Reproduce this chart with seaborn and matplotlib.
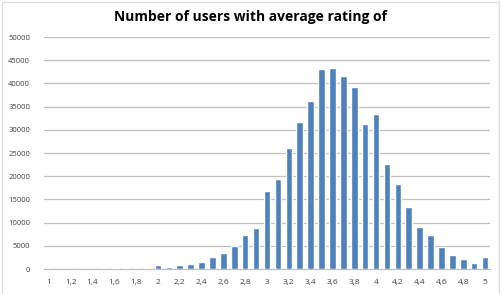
import matplotlib
matplotlib.use("Agg")
import matplotlib.pyplot as plt
import seaborn as sns
import pandas as pd
from matplotlib.patches import Rectangle

ratings = [1.0, 1.1, 1.2, 1.3, 1.4, 1.5, 1.6, 1.7, 1.8, 1.9,
           2.0, 2.1, 2.2, 2.3, 2.4, 2.5, 2.6, 2.7, 2.8, 2.9,
           3.0, 3.1, 3.2, 3.3, 3.4, 3.5, 3.6, 3.7, 3.8, 3.9,
           4.0, 4.1, 4.2, 4.3, 4.4, 4.5, 4.6, 4.7, 4.8, 4.9, 5.0]
users = [300, 60, 40, 40, 60, 110, 150, 150, 160, 200,
         860, 490, 860, 1140, 1570, 2580, 3430, 4860, 7300, 8870,
         16860, 19400, 26180, 31600, 36200, 43000, 43350, 41550, 39330, 31330,
         33400, 22660, 18300, 13300, 9000, 7300, 4640, 3000, 2150, 1200, 2580]
y_ticks = [0, 5000, 10000, 15000, 20000, 25000, 30000, 35000, 40000, 45000, 50000]
title = "Number of users with average rating of"

def fmt(v):
    s = ("%g" % v)
    return s.replace(".", ",")

labels = [fmt(r) for r in ratings]
df = pd.DataFrame({"rating": labels, "users": users})

sns.set_theme(style="white")
plt.rcParams['font.family'] = ['Open Sans', 'DejaVu Sans']

fig = plt.figure(figsize=(5.01, 2.94), dpi=100)
ax = fig.add_axes([44/501, 1-269/294, (490-44)/501, (269-37)/294])

sns.barplot(data=df, x="rating", y="users", color="#4F81BD", saturation=1,
            width=0.6, ax=ax, order=labels, zorder=3)

ax.set_ylim(0, 50000)
ax.set_xlim(-0.45, len(labels) - 0.55)
ax.set_yticks(y_ticks)
ax.set_yticklabels([str(v) for v in y_ticks], fontsize=5.5, color="#404040")
ax.set_xticks(range(0, len(labels), 2))
ax.set_xticklabels(labels[::2], fontsize=6, color="#404040")
ax.yaxis.grid(True, color="#BFBFBF", linewidth=0.9, zorder=0)
ax.set_axisbelow(True)
for s in ["top", "right", "left"]:
    ax.spines[s].set_visible(False)
ax.spines["bottom"].set_color("#BFBFBF")
ax.spines["bottom"].set_linewidth(0.9)
ax.tick_params(axis="both", length=0, pad=7)
ax.tick_params(axis="y", pad=10)
ax.set_xlabel("")
ax.set_ylabel("")

fig.text(0.5, 1-17/294, title, ha="center", va="center", fontsize=10,
         fontweight="bold", color="#000000")

fig.patches.append(Rectangle((2/501, 0.5/294), 497/501, 292/294, transform=fig.transFigure,
                             fill=False, edgecolor="#D9D9D9", linewidth=0.8))

fig.savefig("out.png", dpi=100)
